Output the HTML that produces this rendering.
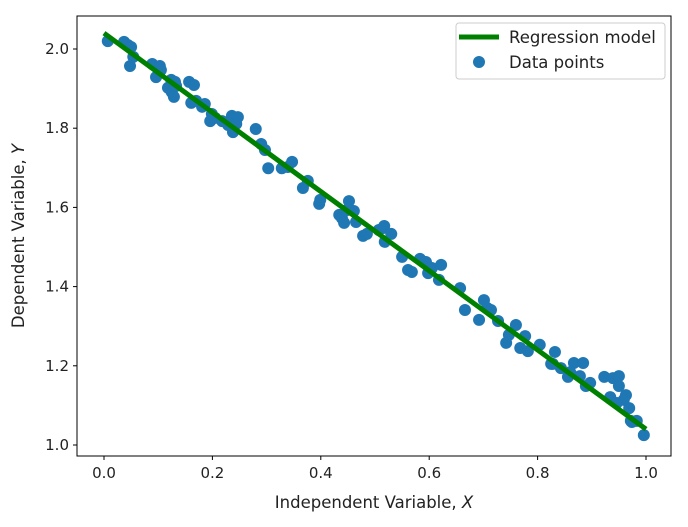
<!DOCTYPE html>
<html><head><meta charset="utf-8"><style>body{margin:0;background:#fff}svg text{font-family:"DejaVu Sans","Liberation Sans",sans-serif;fill:#222}</style></head>
<body>
<svg id="chart" width="688" height="522" xmlns="http://www.w3.org/2000/svg">
<rect x="0" y="0" width="688" height="522" fill="#fff"/>
<g id="plot"></g>
<rect x="77" y="16" width="594" height="440" fill="none" stroke="#000" stroke-width="1"/>
<g id="xt"></g><g id="yt"></g>
<text x="374" y="508" font-size="16.5" text-anchor="middle">Independent Variable, <tspan font-style="italic">X</tspan></text>
<text transform="translate(24,236) rotate(-90)" font-size="16.5" text-anchor="middle">Dependent Variable, <tspan font-style="italic">Y</tspan></text>
<g>
<rect x="456" y="23" width="209" height="56" rx="3" fill="#fff" fill-opacity="0.8" stroke="#ccc"/>
<line x1="459" y1="37" x2="499" y2="37" stroke="#008000" stroke-width="5"/>
<text x="509" y="43" font-size="16.5">Regression model</text>
<circle cx="479" cy="62" r="6" fill="#1f77b4"/>
<text x="509" y="68" font-size="16.5">Data points</text>
</g>
</svg>
<script>
const xs=[.007,.037,.044,.050,.048,.054,.089,.096,.103,.105,.118,.124,.125,.129,.133,.131,.157,.166,.161,.170,.181,.186,.196,.199,.205,.218,.229,.236,.238,.247,.244,.280,.290,.297,.303,.328,.339,.347,.367,.376,.397,.399,.434,.439,.443,.448,.452,.461,.465,.478,.485,.507,.515,.517,.518,.530,.550,.561,.568,.583,.594,.598,.605,.618,.622,.657,.666,.692,.701,.707,.714,.727,.742,.747,.760,.768,.777,.782,.804,.825,.828,.832,.843,.856,.867,.878,.884,.889,.923,.939,.950,.950,.963,.934,.959,.996,.972,.974,.983,.969,.946,.897,.860];
const ys=[2.020,2.018,2.010,2.005,1.957,1.980,1.962,1.929,1.957,1.947,1.902,1.922,1.891,1.879,1.907,1.917,1.917,1.909,1.864,1.869,1.854,1.861,1.818,1.836,1.826,1.818,1.808,1.831,1.790,1.828,1.811,1.798,1.760,1.745,1.699,1.699,1.702,1.715,1.649,1.667,1.609,1.619,1.581,1.573,1.561,1.593,1.616,1.591,1.563,1.528,1.533,1.543,1.548,1.553,1.513,1.533,1.475,1.442,1.437,1.470,1.462,1.434,1.447,1.417,1.455,1.396,1.341,1.316,1.366,1.346,1.341,1.313,1.258,1.278,1.303,1.245,1.275,1.237,1.253,1.205,1.205,1.235,1.194,1.172,1.207,1.174,1.207,1.149,1.172,1.169,1.174,1.149,1.126,1.121,1.114,1.025,1.061,1.058,1.061,1.093,1.106,1.157,1.184];
const lineX=[0,1];
const lineY=[2.04,1.04];
const xTicks=[0,0.2,0.4,0.6,0.8,1.0];
const xTickLabels=["0.0","0.2","0.4","0.6","0.8","1.0"];
const yTicks=[1.0,1.2,1.4,1.6,1.8,2.0];
const yTickLabels=["1.0","1.2","1.4","1.6","1.8","2.0"];
const sx=v=>104+v*542, sy=v=>49+(2-v)*396;
const NS="http://www.w3.org/2000/svg";
function mk(t,a,p){const e=document.createElementNS(NS,t);for(const k in a)e.setAttribute(k,a[k]);p.appendChild(e);return e;}
const plot=document.getElementById('plot');
xs.forEach((x,i)=>{const c=mk('circle',{cx:sx(x),cy:sy(ys[i]),r:6,fill:'#1f77b4'},plot);

});
const l=mk('line',{x1:sx(lineX[0]),y1:sy(lineY[0]),x2:sx(lineX[1]),y2:sy(lineY[1]),stroke:'#008000','stroke-width':5},plot);


const xt=document.getElementById('xt'),yt=document.getElementById('yt');
xTicks.forEach((v,i)=>{mk('line',{x1:sx(v),x2:sx(v),y1:456,y2:460,stroke:'#000'},xt);
const t=mk('text',{x:sx(v),y:478,'font-size':15,'text-anchor':'middle'},xt);t.textContent=xTickLabels[i];

});
yTicks.forEach((v,i)=>{mk('line',{x1:73,x2:77,y1:sy(v),y2:sy(v),stroke:'#000'},yt);
const t=mk('text',{x:69,y:sy(v)+5,'font-size':15,'text-anchor':'end'},yt);t.textContent=yTickLabels[i];

});
</script>
</body></html>
